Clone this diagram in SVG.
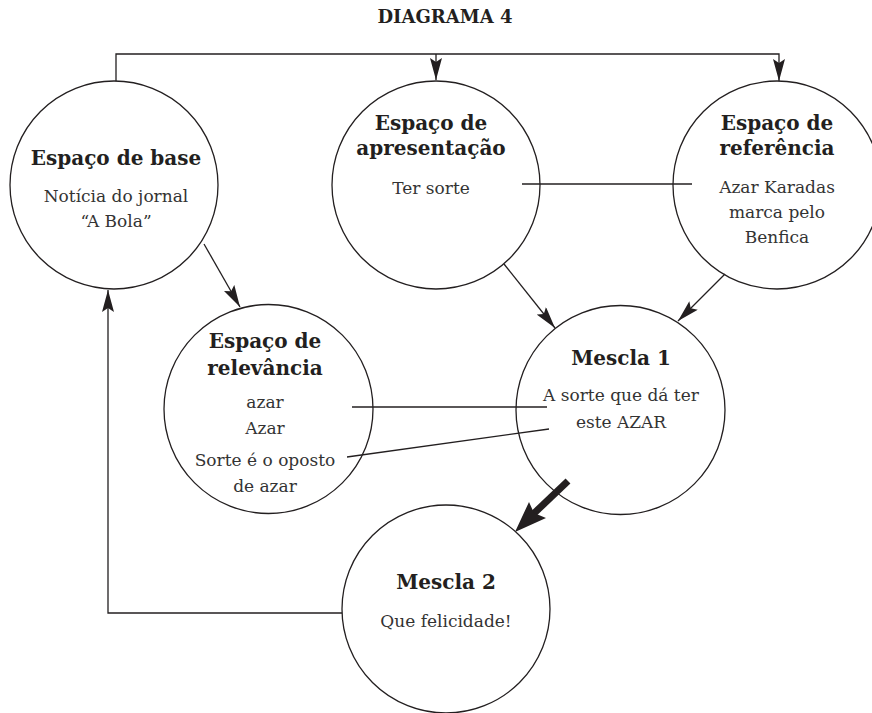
<svg xmlns="http://www.w3.org/2000/svg" width="872" height="713" viewBox="0 0 872 713">
<style>
.c{fill:none;stroke:#231f20;stroke-width:1.3}
.l{fill:none;stroke:#231f20;stroke-width:1.3}
.h{font-family:"DejaVu Serif",serif;font-weight:bold;font-size:20px;fill:#231f20;text-anchor:middle}
.b{font-family:"DejaVu Serif",serif;font-size:17px;fill:#333;text-anchor:middle}
.t{font-family:"DejaVu Serif",serif;font-weight:bold;font-size:18px;fill:#231f20;text-anchor:middle}
</style>
<defs>
<marker id="ah" viewBox="0 0 22 12" markerUnits="userSpaceOnUse" markerWidth="22" markerHeight="12" refX="22" refY="6" orient="auto">
<path d="M0,0 L22,6 L0,12 L4,6 Z" fill="#231f20"/>
</marker>
</defs>
<rect width="872" height="713" fill="#fff"/>
<text class="t" x="445" y="23">DIAGRAMA 4</text>
<g id="connectors">
<path class="l" d="M116,81 V54 H779 V81" marker-end="url(#ah)"/>
<path class="l" d="M436,54 V80" marker-end="url(#ah)"/>
<path class="l" d="M204,244 L240,307" marker-end="url(#ah)"/>
<path class="l" d="M504,264 L555,328" marker-end="url(#ah)"/>
<path class="l" d="M725,274 L678,321" marker-end="url(#ah)"/>
<path class="l" d="M342,613 H108 V290" marker-end="url(#ah)"/>
<path class="l" d="M522,184 H692"/>
<path class="l" d="M352,407 H547"/>
<path class="l" d="M347,457 L549,429"/>
<g id="thick-arrow">
<path d="M568,481 L527,520" stroke="#231f20" stroke-width="7" fill="none"/>
<path d="M515,532 L529,502 L534,513 L546,518 Z" fill="#231f20"/>
</g>
</g>
<g id="base">
<circle class="c" cx="114" cy="185" r="104"/>
<text class="h" x="116" y="165">Espaço de base</text>
<text class="b" x="116" y="202">Notícia do jornal</text>
<text class="b" x="116" y="227">“A Bola”</text>
</g>
<g id="apresentacao">
<circle class="c" cx="436" cy="185" r="104"/>
<text class="h" x="431" y="130">Espaço de</text>
<text class="h" x="431" y="155">apresentação</text>
<text class="b" x="431" y="194">Ter sorte</text>
</g>
<g id="referencia">
<circle class="c" cx="777" cy="185" r="104"/>
<text class="h" x="777" y="130">Espaço de</text>
<text class="h" x="777" y="155">referência</text>
<text class="b" x="777" y="193">Azar Karadas</text>
<text class="b" x="777" y="218">marca pelo</text>
<text class="b" x="777" y="243">Benfica</text>
</g>
<g id="relevancia">
<circle class="c" cx="268.5" cy="409" r="104.5"/>
<text class="h" x="265" y="348">Espaço de</text>
<text class="h" x="265" y="375">relevância</text>
<text class="b" x="265" y="408">azar</text>
<text class="b" x="265" y="434">Azar</text>
<text class="b" x="265" y="466">Sorte é o oposto</text>
<text class="b" x="265" y="492">de azar</text>
</g>
<g id="mescla1">
<circle class="c" cx="620.5" cy="410" r="104.5"/>
<text class="h" x="621" y="365">Mescla 1</text>
<text class="b" x="621" y="401">A sorte que dá ter</text>
<text class="b" x="621" y="428">este AZAR</text>
</g>
<g id="mescla2">
<circle class="c" cx="446" cy="609" r="104"/>
<text class="h" x="446" y="589">Mescla 2</text>
<text class="b" x="446" y="627">Que felicidade!</text>
</g>
</svg>
